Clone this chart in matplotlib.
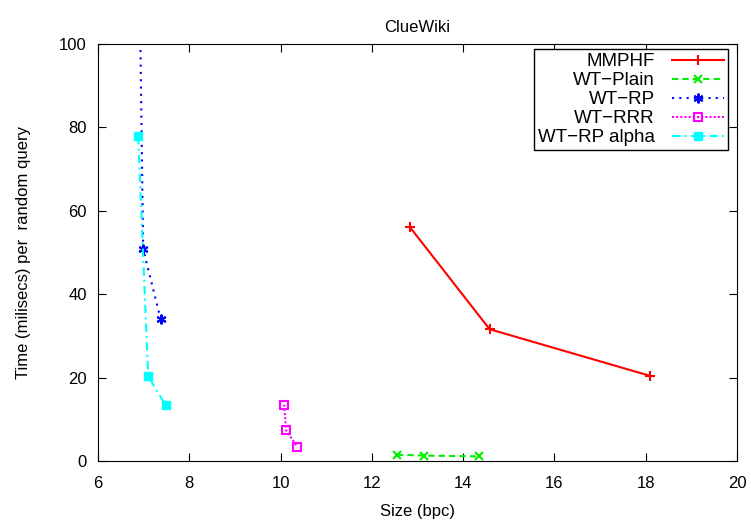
import matplotlib
matplotlib.use('Agg')
import matplotlib.pyplot as plt

plt.rcParams['font.family'] = ['Liberation Sans', 'DejaVu Sans']

# data
mmphf_x = [12.84, 14.58, 18.1]
mmphf_y = [56.0, 31.6, 20.4]

plain_x = [12.55, 13.15, 14.35]
plain_y = [1.5, 1.3, 1.1]

rp_x = [6.89, 6.99, 7.37]
rp_y = [130.0, 50.8, 34.1]

rrr_x = [10.08, 10.12, 10.37]
rrr_y = [13.5, 7.4, 3.3]

alpha_x = [6.88, 7.10, 7.48]
alpha_y = [77.9, 20.3, 13.4]

fig = plt.figure(figsize=(7.51, 5.21), dpi=100)
ax = fig.add_axes([0.1305, 0.1152, 0.8509, 0.8003])

ax.plot(mmphf_x, mmphf_y, color='red', lw=1.5, marker='+', ms=7, mew=1.5, label='MMPHF')
ax.plot(plain_x, plain_y, color='#00ee00', lw=1.5, ls=(0, (3, 2)), marker='x', ms=5.5, mew=1.5,
        label='WT\u2212Plain')
ax.plot(rp_x, rp_y, color='blue', lw=1.5, ls=(0, (1, 2.5)), marker=(6, 2, 0), ms=7, mew=1.5,
        label='WT\u2212RP')
ax.plot(rrr_x, rrr_y, color='magenta', lw=1.5, ls=(0, (1, 1)), marker='s', ms=6, mew=1.5,
        mfc='none', label='WT\u2212RRR')
ax.plot(alpha_x, alpha_y, color='cyan', lw=1.5, ls=(0, (4, 2, 1, 2)), marker='s', ms=6,
        label='WT\u2212RP alpha')

ax.set_xlim(6, 20)
ax.set_ylim(0, 100)
ax.set_xticks(range(6, 21, 2))
ax.set_yticks(range(0, 101, 20))
ax.tick_params(direction='in', top=True, right=True, labelsize=12, length=6)
ax.tick_params(axis='x', pad=11)
ax.tick_params(axis='y', pad=8)

ax.set_title('ClueWiki', fontsize=12, pad=9)
ax.set_xlabel('Size (bpc)', fontsize=12, labelpad=9)
ax.set_ylabel('Time (milisecs) per  random query', fontsize=12, labelpad=20)

leg = ax.legend(loc='upper right', bbox_to_anchor=(0.9864, 0.988), markerfirst=False,
                fancybox=False, framealpha=1, edgecolor='black', fontsize=13.5,
                handlelength=2.8, borderaxespad=0, labelspacing=0.1, borderpad=0.22,
                handletextpad=0.9)
for t in leg.get_texts():
    t.set_ha('right')
leg._legend_box.align = 'right'

fig.savefig('out.png', dpi=100)
